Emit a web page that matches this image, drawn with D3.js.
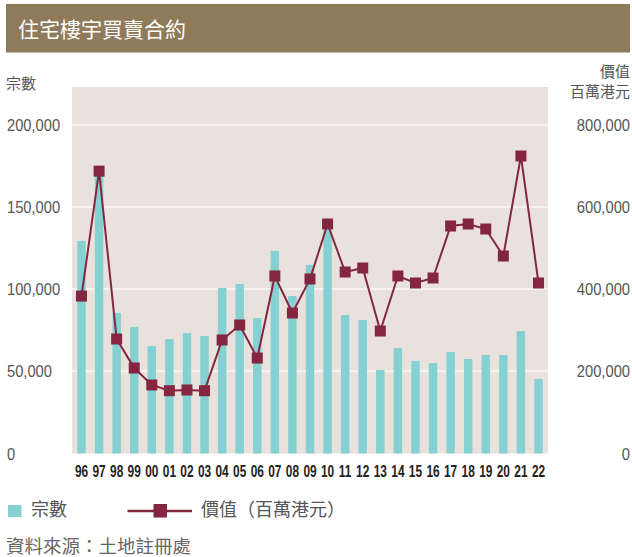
<!DOCTYPE html>
<html lang="zh-Hant">
<head>
<meta charset="UTF-8">
<title>住宅樓宇買賣合約</title>
<script src="https://cdn.jsdelivr.net/npm/d3@7"></script>
<style>
  body { margin: 0; background: #fff; }
  svg { display: block; font-family: "Noto Sans CJK TC", "Noto Sans", sans-serif; }
</style>
</head>
<body>
<script>
// data
var years = ["96","97","98","99","00","01","02","03","04","05","06","07","08","09",
             "10","11","12","13","14","15","16","17","18","19","20","21","22"];
var deals = [129300,172000,85500,76900,65400,69600,73300,71500,100700,103100,82400,123200,95800,114700,
             136000,84200,81200,50800,64200,56300,55000,61700,57500,59900,59900,74500,45300];
var value = [383000,687000,278600,208000,166700,152800,154500,152800,276200,312600,232300,431900,341800,424600,
             558400,441600,451300,298000,431900,414800,427000,553500,558400,546200,480500,723800,414800];
var leftTicks = [0, 50000, 100000, 150000, 200000];
var rightTicks = [0, 200000, 400000, 600000, 800000];

var W = 632, H = 557;
var plot = { left: 72, right: 548, top: 87, bottom: 453.5 };
var barColor = "#85d0d2", lineColor = "#84263f";

var svg = d3.select("body").append("svg").attr("width", W).attr("height", H);

// title bar
svg.append("rect").attr("x", 6).attr("y", 4).attr("width", 624).attr("height", 48.5).attr("fill", "#8f7a5a");
svg.append("text").attr("x", 18).attr("y", 37).attr("fill", "#fff")
  .style("font-size", "21px").text("住宅樓宇買賣合約");

var x = d3.scaleBand().domain(years).range([plot.left, plot.right]).paddingInner(0.52).paddingOuter(0.3);
var yL = d3.scaleLinear().domain([0, 200000]).range([plot.bottom, 124.7]);
var yR = d3.scaleLinear().domain([0, 800000]).range([plot.bottom, 124.7]);

svg.append("rect").attr("x", plot.left).attr("y", plot.top)
  .attr("width", plot.right - plot.left).attr("height", plot.bottom - plot.top).attr("fill", "#e9e2dc");

// grid
svg.selectAll(".grid").data(leftTicks.slice(1)).enter().append("line")
  .attr("x1", plot.left).attr("x2", plot.right)
  .attr("y1", d => yL(d)).attr("y2", d => yL(d))
  .attr("stroke", "#f7f4f0").attr("stroke-width", 2);

// axis titles
svg.append("text").attr("x", 6).attr("y", 89).attr("fill", "#555").style("font-size", "15px").text("宗數");
svg.append("text").attr("x", 630).attr("y", 77).attr("text-anchor", "end").attr("fill", "#555").style("font-size", "15px").text("價值");
svg.append("text").attr("x", 630).attr("y", 97).attr("text-anchor", "end").attr("fill", "#555").style("font-size", "15px").text("百萬港元");

var fmt = d3.format(",");
var tickFont = '"Liberation Sans", "Noto Sans", sans-serif';
svg.selectAll(".lt").data(leftTicks).enter().append("text")
  .attr("transform", d => "translate(7," + (yL(d) + 6) + ") scale(0.92,1)")
  .attr("fill", "#555")
  .style("font-size", "16px").style("font-family", tickFont)
  .text(d => fmt(d));
svg.selectAll(".rt").data(rightTicks).enter().append("text")
  .attr("transform", d => "translate(630," + (yR(d) + 6) + ") scale(0.92,1)")
  .attr("text-anchor", "end").attr("fill", "#555")
  .style("font-size", "16px").style("font-family", tickFont)
  .text(d => fmt(d));

// bars
svg.selectAll(".bar").data(deals).enter().append("rect")
  .attr("x", (d, i) => x(years[i]))
  .attr("width", x.bandwidth())
  .attr("y", d => yL(d))
  .attr("height", d => plot.bottom - yL(d))
  .attr("fill", barColor);

// x labels (condensed look)
svg.selectAll(".xl").data(years).enter().append("text")
  .attr("transform", d => "translate(" + (x(d) + x.bandwidth() / 2) + ",477) scale(0.7,1)")
  .attr("text-anchor", "middle").attr("fill", "#222")
  .style("font-size", "17px").style("font-weight", "bold")
  .style("font-family", '"Liberation Sans", sans-serif')
  .text(d => d);

// line
var line = d3.line().x((d, i) => x(years[i]) + x.bandwidth() / 2).y(d => yR(d));
svg.append("path").datum(value).attr("d", line)
  .attr("fill", "none").attr("stroke", lineColor).attr("stroke-width", 2);
var m = 11;
svg.selectAll(".mk").data(value).enter().append("rect")
  .attr("x", (d, i) => x(years[i]) + x.bandwidth() / 2 - m / 2)
  .attr("y", d => yR(d) - m / 2)
  .attr("width", m).attr("height", m).attr("fill", lineColor);

// legend
svg.append("rect").attr("x", 8).attr("y", 505).attr("width", 13.5).attr("height", 12).attr("fill", barColor);
svg.append("text").attr("x", 31).attr("y", 516).attr("fill", "#555").style("font-size", "18px").text("宗數");
svg.append("line").attr("x1", 127.5).attr("x2", 192).attr("y1", 511).attr("y2", 511)
  .attr("stroke", lineColor).attr("stroke-width", 2.5);
svg.append("rect").attr("x", 153.5).attr("y", 504).attr("width", 13.5).attr("height", 13.5).attr("fill", lineColor);
svg.append("text").attr("x", 201).attr("y", 516).attr("fill", "#555").style("font-size", "18px").text("價值（百萬港元）");

// source
svg.append("text").attr("x", 6).attr("y", 553).attr("fill", "#666").style("font-size", "18.5px").text("資料來源：土地註冊處");
</script>
</body>
</html>
